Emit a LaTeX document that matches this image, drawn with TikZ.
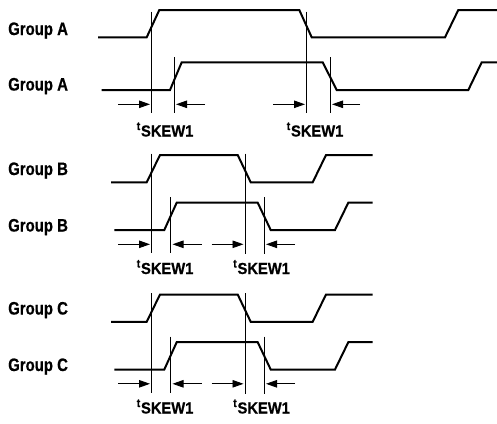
\documentclass[tikz,border=0pt]{standalone}
\usepackage{fontspec}
\setmainfont{Liberation Sans}
\newfontfamily\grpfont{Liberation Sans}[FakeStretch=0.83,FakeBold=0.6]
\newfontfamily\skfont{Liberation Sans}[FakeStretch=0.92,FakeBold=0.6]
\usetikzlibrary{arrows.meta}
\tikzset{
  sig/.style={line width=2pt, line join=miter},
  vline/.style={line width=0.9pt},
  skewarr/.style={line width=0.9pt, -{Triangle[length=11pt,width=7.5pt]}},
  grp/.style={anchor=base west, inner sep=0pt, font=\grpfont\bfseries\fontsize{18}{18}\selectfont},
  skl/.style={anchor=base west, inner sep=0pt, font=\skfont\bfseries}
}
\newcommand{\tskew}{{\fontsize{11.5}{11.5}\selectfont\raisebox{6.5pt}{t}}\kern0.8pt{\fontsize{16}{16}\selectfont SKEW1}}
\begin{document}
\begin{tikzpicture}[x=1pt,y=-1pt]
\useasboundingbox (0,0) rectangle (497,423);
% ---------- Group A ----------
\node[grp] (gA1) at (8,35) {Group A};
\node[grp] (gA2) at (8,90.5) {Group A};
\draw[sig] (98,37.3) -- (146.7,37.3) -- (159.3,10) -- (299.3,10) -- (311.7,37.3) -- (445,37.3) -- (458.3,10) -- (497,10);
\draw[sig] (101.7,90) -- (170,90) -- (181.7,62.3) -- (322.7,62.3) -- (336.7,90) -- (468.3,90) -- (481.7,62.3) -- (497,62.3);
\coordinate (a1t) at (151.7,11.5); \coordinate (a1b) at (151.7,113);
\coordinate (a2t) at (174.3,57);   \coordinate (a2b) at (174.3,113);
\coordinate (a3t) at (306.7,11.5); \coordinate (a3b) at (306.7,113);
\coordinate (a4t) at (330,57);     \coordinate (a4b) at (330,113);
\draw[vline] (a1t) -- (a1b);
\draw[vline] (a2t) -- (a2b);
\draw[vline] (a3t) -- (a3b);
\draw[vline] (a4t) -- (a4b);
\coordinate (aa1s) at (118,104.3); \coordinate (aa1e) at (150,104.3);
\coordinate (aa2s) at (205,104.3); \coordinate (aa2e) at (176,104.3);
\coordinate (aa3s) at (273.3,104.3); \coordinate (aa3e) at (305,104.3);
\coordinate (aa4s) at (360,104.3); \coordinate (aa4e) at (332,104.3);
\draw[skewarr] (aa1s) -- (aa1e);
\draw[skewarr] (aa2s) -- (aa2e);
\draw[skewarr] (aa3s) -- (aa3e);
\draw[skewarr] (aa4s) -- (aa4e);
\node[skl] (sA1) at (136.5,136.5) {\tskew};
\node[skl] (sA2) at (286.5,136.5) {\tskew};
% ---------- Group B and C ----------
\foreach \o/\g in {0/B,139.5/C}{
\begin{scope}[shift={(0,\o)}]
\node[grp] (g\g1) at (8,175) {Group \g};
\node[grp] (g\g2) at (8,231.5) {Group \g};
\draw[sig] (111,182.3) -- (146.7,182.3) -- (160,155) -- (237.7,155) -- (250.7,182.3) -- (312.7,182.3) -- (326,155) -- (372.7,155);
\draw[sig] (114.3,230) -- (164.3,230) -- (176.7,202.7) -- (257.7,202.7) -- (270.7,230) -- (335,230) -- (348.3,202.7) -- (372.7,202.7);
\coordinate (\g v1t) at (151.7,153.5); \coordinate (\g v1b) at (151.7,253);
\coordinate (\g v2t) at (170.7,197);   \coordinate (\g v2b) at (170.7,253);
\coordinate (\g v3t) at (245,153.5);   \coordinate (\g v3b) at (245,254);
\coordinate (\g v4t) at (264.3,197);   \coordinate (\g v4b) at (264.3,254);
\draw[vline] (\g v1t) -- (\g v1b);
\draw[vline] (\g v2t) -- (\g v2b);
\draw[vline] (\g v3t) -- (\g v3b);
\draw[vline] (\g v4t) -- (\g v4b);
\coordinate (\g a1s) at (118.3,244.3); \coordinate (\g a1e) at (150,244.3);
\coordinate (\g a2s) at (201.7,244.3); \coordinate (\g a2e) at (172.5,244.3);
\coordinate (\g a3s) at (211.7,244.3); \coordinate (\g a3e) at (243.5,244.3);
\coordinate (\g a4s) at (295,244.3);   \coordinate (\g a4e) at (266,244.3);
\draw[skewarr] (\g a1s) -- (\g a1e);
\draw[skewarr] (\g a2s) -- (\g a2e);
\draw[skewarr] (\g a3s) -- (\g a3e);
\draw[skewarr] (\g a4s) -- (\g a4e);
\node[skl] (s\g1) at (136.5,274) {\tskew};
\node[skl] (s\g2) at (233,274) {\tskew};
\end{scope}
}
\end{tikzpicture}
\end{document}
